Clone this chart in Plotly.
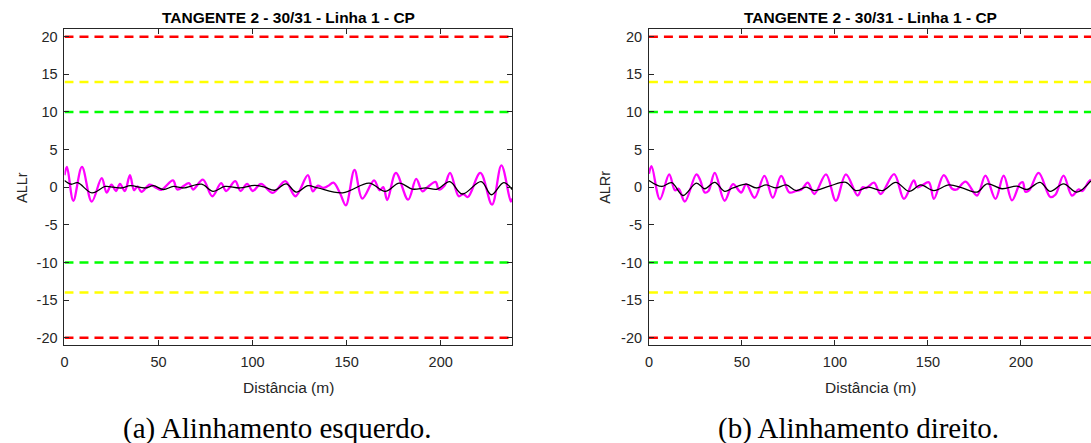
import plotly.graph_objects as go

W, H = 1091, 443

# Left rail (ALLr): magenta = measured alignment, black = filtered alignment
left_dist = [0, 1.3, 4.7, 9.3, 14.5, 19.8, 22.4, 25.0, 27.4, 29.5, 32.1, 34.8, 37.0, 38.8, 40.9,
             45.3, 48.9, 51.5, 57.7, 60.0, 66.2, 68.3, 73.6, 78.6, 83.3, 85.9, 90.8, 93.6, 97.1,
             100.1, 104.5, 110.7, 117.4, 122.8, 129.4, 132.0, 134.7, 137.5, 140.0, 143.0, 146.5,
             149.6, 154.2, 158.3, 164.6, 167.5, 169.5, 171.6, 176.2, 182.7, 187.0, 190.3, 193.0,
             197.3, 199.0, 202.0, 205.0, 209.6, 212.0, 214.5, 221.1, 227.3, 232.3, 237.3, 238.0]
left_meas = [1.6, 2.7, -1.8, 2.7, -1.9, 1.2, -0.7, 0.35, -0.5, 0.45, -0.5, 1.6, -0.4, 0.1, -0.6,
             0.35, -0.1, -0.35, 0.9, -0.3, 0.55, -0.3, 1.0, -1.2, 0.55, -0.5, 0.8, -0.5, 0.45,
             -0.5, 0.45, -0.75, 0.8, -1.2, 1.6, -0.55, 0.2, -0.1, 0.15, 0.6, -0.8,
             -2.4, 2.3, -1.5, 0.9, -0.4, 0.0, -1.7, 1.9, -1.65, 1.1, -0.55, 0.0,
             0.7, -0.3, 0.2, 1.9, -1.2, -0.9, -1.3, 1.9, -2.3, 2.9, -1.9, -1.5]

left_filt_dist = [0, 3.5, 7.0, 14.6, 21.7, 26.0, 30.5, 35.0, 42.9, 47.3, 52.6, 57.9, 63.2, 72.9,
                  79.0, 85.3, 93.2, 101.1, 106.4, 111.7, 117.9, 123.2, 129.4, 134.7, 147.9, 162.0,
                  170.5, 178.0, 185.0, 192.0, 198.2, 204.8, 211.5, 221.5, 227.0, 233.5, 238.0]
left_filt = [0.9, 0.4, 0.6, -0.75, 0.1, 0.0, -0.1, 0.2, -0.1, 0.2, -0.3, 0.1, -0.1, 0.4,
             -0.55, 0.1, -0.1, 0.25, 0.0, -0.4, 0.45, -0.65, 0.2, -0.1, -0.75, 0.55,
             -0.55, 0.55, -0.25, -0.1, -0.25, 0.75, -0.9, 0.75, -1.0, 0.6, -0.3]

# Right rail (ALRr)
right_dist = [0, 1.4, 5.9, 10.9, 14.0, 16.0, 19.3, 25.5, 27.5, 30.0, 32.0, 35.4, 40.7, 45.2,
              49.6, 52.3, 56.8, 62.1, 66.6, 71.1, 75.5, 79.1, 82.0, 85.4, 88.9, 95.2, 100.5,
              105.9, 112.2, 114.8, 117.0, 121.0, 124.6, 131.8, 137.1, 142.4, 144.2, 146.5,
              150.5, 153.2, 158.5, 163.0, 165.5, 170.2, 176.4, 180.9, 186.3, 190.7, 195.2,
              199.5, 201.0, 202.4, 204.5, 209.5, 215.8, 218.5, 222.9, 227.4, 231.0, 233.0,
              236.3, 237.6]
right_meas = [1.8, 2.8, -1.6, 1.7, -0.4, -0.2, -1.9, 1.7, 1.0, -0.7, -0.5, 1.9, -1.8, 0.4,
              -0.7, 0.4, -1.4, 1.5, -1.4, 1.5, -0.7, -0.5, -0.3, 0.6, -0.9, 1.7, -1.8,
              1.7, -1.1, 0.0, -0.1, 0.6, -0.9, 1.75, -1.55, 0.9, 0.0, 0.2,
              0.65, -1.55, 1.6, -0.2, -0.3, 0.75, -1.1, 1.55, -1.55, 1.55, -1.75,
              0.5, 0.65, -0.6, -0.4, 1.9, -1.3, -1.0, 1.55, -1.1, -0.3, -0.5,
              0.7, 1.0]

right_filt_dist = [0, 6.8, 12.2, 18.4, 25.5, 30.0, 35.4, 40.7, 45.2, 52.3, 57.7, 63.0, 68.4, 73.8,
                   79.1, 84.5, 89.0, 97.0, 105.9, 111.2, 118.0, 125.5, 132.7, 139.9, 146.1, 153.2,
                   161.3, 168.4, 176.4, 181.8, 189.8, 197.8, 203.2, 210.3, 215.7, 222.9, 230.0,
                   237.6]
right_filt = [0.9, 0.1, 0.6, -1.1, 0.55, -0.2, 0.65, -0.55, -0.1, 0.4, -0.1, 0.3, -0.1, 0.3,
              -0.45, 0.0, -0.45, 0.15, 0.65, -0.45, 0.0, -0.45, 0.65, -0.55, 0.3, -0.45,
              0.3, -0.1, -0.65, 0.45, -0.2, 0.15, -0.3, 0.65, -0.55, 0.45, -0.65,
              0.85]

# Limit lines (mm)
limit_values = [20, 14, 10, -10, -14, -20]
limit_colors = ["#ff0000", "#ffff00", "#00ff00", "#00ff00", "#ffff00", "#ff0000"]

y_ticks = [-20, -15, -10, -5, 0, 5, 10, 15, 20]
y_tick_text = ["-20", "-15", "-10", "-5", "0", "5", "10", "15", "20"]
x_ticks = [0, 50, 100, 150, 200]
x_tick_text = ["0", "50", "100", "150", "200"]

title_text = "TANGENTE 2 - 30/31 - Linha 1 - CP"
x_label = "Distância (m)"
y_labels = ["ALLr", "ALRr"]
captions = ["(a) Alinhamento esquerdo.", "(b) Alinhamento direito."]

# Panel geometry in pixels
panels = [
    dict(x0=60.7, x1=510.0, xmax=238.0),
    dict(x0=647.3, x1=1091.0, xmax=(1091.0 - 647.3) / 1.867),
]
y_top, y_bot = 29.3, 346.0

sans = "Liberation Sans, Arial, sans-serif"
serif = "Liberation Serif, Times New Roman, serif"
axcol = "#262626"

fig = go.Figure()

series = [
    (left_dist, left_meas, left_filt_dist, left_filt),
    (right_dist, right_meas, right_filt_dist, right_filt),
]

for i, (p, (md, mv, fd, fv)) in enumerate(zip(panels, series)):
    xa = "x" if i == 0 else "x2"
    ya = "y" if i == 0 else "y2"
    for v, c in zip(limit_values, limit_colors):
        fig.add_trace(go.Scatter(x=[0, p["xmax"]], y=[v, v], mode="lines",
                                 line=dict(color=c, width=2.5, dash="9px,6px"),
                                 xaxis=xa, yaxis=ya, showlegend=False, hoverinfo="skip"))
    fig.add_trace(go.Scatter(x=md, y=mv, mode="lines",
                             line=dict(color="#ff00ff", width=2.3, shape="spline", smoothing=1.0),
                             xaxis=xa, yaxis=ya, showlegend=False))
    fig.add_trace(go.Scatter(x=fd, y=fv, mode="lines",
                             line=dict(color="#000000", width=1.3, shape="spline", smoothing=1.0),
                             xaxis=xa, yaxis=ya, showlegend=False))


def xdom(p):
    return [p["x0"] / W, min(p["x1"] / W, 1.0)]


ydom = [1 - y_bot / H, 1 - y_top / H]

common_x = dict(showgrid=False, zeroline=False, showline=True, linecolor=axcol, linewidth=1,
                ticks="inside", ticklen=5, tickcolor=axcol, tickwidth=1,
                tickvals=x_ticks, ticktext=x_tick_text,
                tickfont=dict(family=sans, size=14.5, color=axcol),
                ticklabelstandoff=3)
common_y = dict(showgrid=False, zeroline=False, showline=True, linecolor=axcol, linewidth=1,
                ticks="inside", ticklen=5, tickcolor=axcol, tickwidth=1,
                tickvals=y_ticks, ticktext=y_tick_text,
                tickfont=dict(family=sans, size=14.5, color=axcol),
                range=[-21, 21], ticklabelstandoff=3)

fig.update_layout(
    width=W, height=H, margin=dict(l=0, r=0, t=0, b=0),
    paper_bgcolor="white", plot_bgcolor="white",
    xaxis=dict(common_x, domain=xdom(panels[0]), range=[0, panels[0]["xmax"]],
               anchor="y", mirror="allticks"),
    yaxis=dict(common_y, domain=ydom, anchor="x", mirror="allticks"),
    xaxis2=dict(common_x, domain=xdom(panels[1]), range=[0, panels[1]["xmax"]],
                anchor="y2", mirror="allticks"),
    yaxis2=dict(common_y, domain=ydom, anchor="x2", mirror=False),
)

ann = []
title_centers = [285.3, 870.0]
xlabel_centers = [285.3, 870.0]
caption_centers = [274.5, 858.0]
ylabel_x = [18.0, 603.0]
for i, p in enumerate(panels):
    ann.append(dict(text=f"<b>{title_text}</b>", x=title_centers[i] / W, y=1 - 17.5 / H,
                    xref="paper", yref="paper", showarrow=False, xanchor="center", yanchor="middle",
                    font=dict(family=sans, size=15.5, color="#000000")))
    ann.append(dict(text=x_label, x=xlabel_centers[i] / W, y=1 - 388 / H,
                    xref="paper", yref="paper", showarrow=False,
                    xanchor="center", yanchor="middle",
                    font=dict(family=sans, size=15.5, color=axcol)))
    ann.append(dict(text=y_labels[i], x=ylabel_x[i] / W, y=1 - 187.5 / H, textangle=-90,
                    xref="paper", yref="paper", showarrow=False, xanchor="center", yanchor="middle",
                    font=dict(family=sans, size=14.5, color=axcol)))
    ann.append(dict(text=captions[i], x=caption_centers[i] / W, y=1 - 429 / H,
                    xref="paper", yref="paper", showarrow=False, xanchor="center", yanchor="middle",
                    font=dict(family=serif, size=29, color="#000000")))
fig.update_layout(annotations=ann)

fig.write_html("out.html")
